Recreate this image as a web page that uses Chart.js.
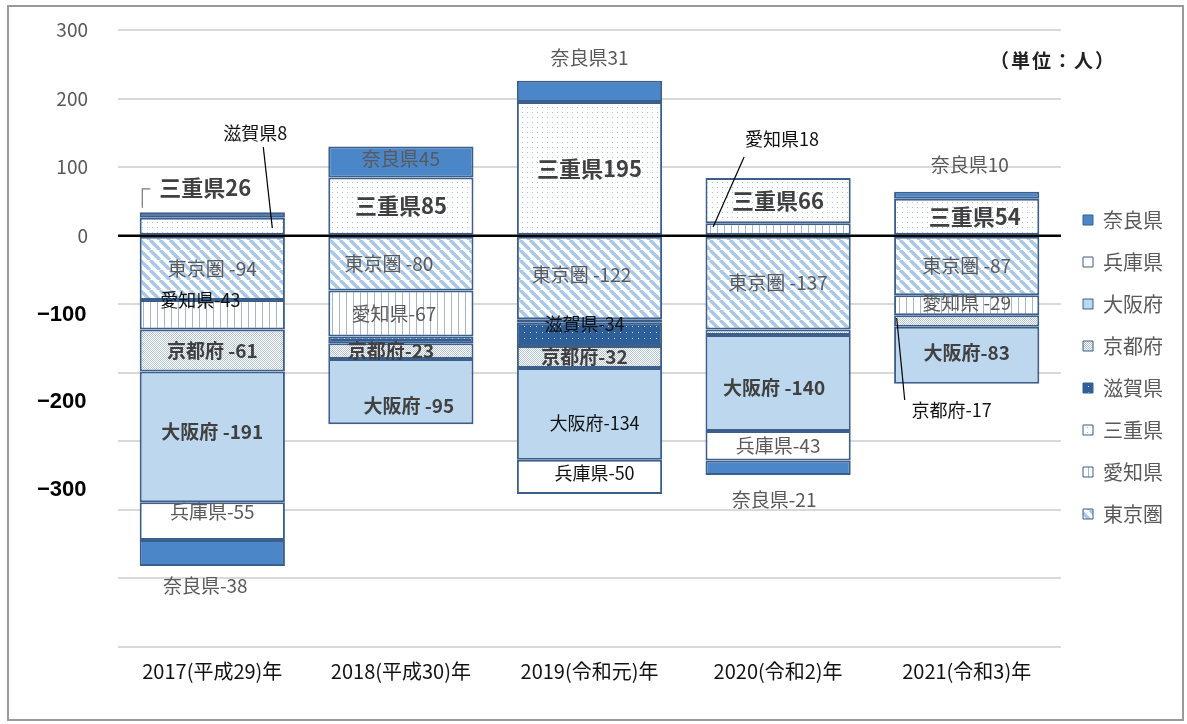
<!DOCTYPE html>
<html lang="ja">
<head>
<meta charset="utf-8">
<title>圏域別転入超過数</title>
<script src="https://cdn.jsdelivr.net/npm/chart.js@4.4.1/dist/chart.umd.min.js"></script>
<style>
  html, body { margin: 0; padding: 0; background: #fff; }
  #wrap { position: relative; width: 1187px; height: 724px; }
  #frame { position: absolute; left: 7px; top: 5px; width: 1173px; height: 712px; border: 2px solid #9a9a9a; pointer-events: none; }
  #unit { position: absolute; left: 990px; top: 46px; font: bold 19px "Noto Sans CJK JP"; color: #222; letter-spacing: 2px; }
</style>
</head>
<body>
<div id="wrap">
  <canvas id="chart"></canvas>
  <div id="frame"></div>
  <div id="unit">（単位：人）</div>
</div>
<script>
const years = ['2017(平成29)年', '2018(平成30)年', '2019(令和元)年', '2020(令和2)年', '2021(令和3)年'];

// 転入超過数（人）, null = なし
const tokyo = [-94, -80, -122, -137, -87];
const aichi = [-43, -67, -5, 18, -29];
const mie   = [26, 85, 195, 66, 54];
const shiga = [8, -10, -34, null, null];
const kyoto = [-61, -23, -32, -8, -17];
const osaka = [-191, -95, -134, -140, -83];
const hyogo = [-55, null, -50, -43, null];
const nara  = [-38, 45, 31, -21, 10];

const topTicks = [300, 200, 100, 0];
const negTicks = [-100, -200, -300];

const FAMILY = '"Noto Sans CJK JP", "Noto Sans", sans-serif';
const canvas = document.getElementById('chart');
const cctx = canvas.getContext('2d');

function pattern(w, h, bg, draw) {
  const tile = document.createElement('canvas');
  tile.width = w; tile.height = h;
  const g = tile.getContext('2d');
  g.fillStyle = bg; g.fillRect(0, 0, w, h);
  draw(g);
  return cctx.createPattern(tile, 'repeat');
}

const fills = {
  tokyo: pattern(10, 10, '#fff', g => {
    g.strokeStyle = '#a9c8e8'; g.lineWidth = 3.5;
    [-10, 0, 10].forEach(k => { g.beginPath(); g.moveTo(k, 0); g.lineTo(k + 10, 10); g.stroke(); });
  }),
  aichi: pattern(7, 1, '#fff', g => { g.fillStyle = '#a3b5c9'; g.fillRect(3, 0, 1, 1); }),
  mie: pattern(5, 5, '#fff', g => { g.fillStyle = '#9fbfe0'; g.fillRect(2, 2, 1, 1); }),
  shiga: pattern(6, 6, '#2f5f98', g => { g.fillStyle = '#c9dcf0'; g.fillRect(2, 2, 1, 1); }),
  kyoto: pattern(2, 2, '#fff', g => { g.fillStyle = '#b3c4d8'; g.fillRect(0, 0, 1, 1); g.fillRect(1, 1, 1, 1); }),
  osaka: '#bdd7ee',
  hyogo: '#ffffff',
  nara: '#4a86c8'
};

const series = [
  ['東京圏', tokyo, fills.tokyo],
  ['愛知県', aichi, fills.aichi],
  ['三重県', mie, fills.mie],
  ['滋賀県', shiga, fills.shiga],
  ['京都府', kyoto, fills.kyoto],
  ['大阪府', osaka, fills.osaka],
  ['兵庫県', hyogo, fills.hyogo],
  ['奈良県', nara, fills.nara]
];

const fonts = {
  gray:  { font: '19px ' + FAMILY, color: '#595959' },
  black: { font: '18px ' + FAMILY, color: '#111' },
  bold:  { font: 'bold 19px ' + FAMILY, color: '#404040' },
  mie:   { font: 'bold 22px ' + FAMILY, color: '#404040' }
};

// [系列, 年, 書式, 区切り, 基準(center/out), dx, dy, 引出線]
const notes = [
  ['三重県', 0, 'mie', '', 'out', -7, -30, [['L', -55, 1], ['L', -63, 1], ['L', -63, 20]], '#777'],
  ['滋賀県', 0, 'black', '', 'center', 43, -82, [['L', 8, 14], ['S', 60, 13]]],
  ['東京圏', 0, 'gray', ' ', 'center', 0, 0],
  ['愛知県', 0, 'black', '', 'center', -12, -15],
  ['京都府', 0, 'bold', ' ', 'center', 0, 0],
  ['大阪府', 0, 'bold', ' ', 'center', 0, -5],
  ['兵庫県', 0, 'gray', '', 'center', 0, -9],
  ['奈良県', 0, 'gray', '', 'out', -7, 20],

  ['奈良県', 1, 'gray', '', 'center', 0, -3],
  ['三重県', 1, 'mie', '', 'center', 0, 0],
  ['東京圏', 1, 'gray', ' ', 'center', -12, 0],
  ['愛知県', 1, 'gray', '', 'center', -7, 0],
  ['京都府', 1, 'bold', '', 'center', -10, 0],
  ['大阪府', 1, 'bold', ' ', 'center', 8, 14],

  ['奈良県', 2, 'gray', '', 'out', 0, -23],
  ['三重県', 2, 'mie', '', 'center', 0, 0],
  ['東京圏', 2, 'gray', ' ', 'center', -8, -3],
  ['滋賀県', 2, 'black', '', 'center', -5, -10],
  ['京都府', 2, 'bold', '', 'center', -5, 0],
  ['大阪府', 2, 'black', '', 'center', 5, 9],
  ['兵庫県', 2, 'black', '', 'center', 5, -4],

  ['愛知県', 3, 'black', '', 'center', 4, -90, [['L', -38, 18], ['S', -65, -2]]],
  ['三重県', 3, 'mie', '', 'center', 0, 0],
  ['東京圏', 3, 'gray', ' ', 'center', 0, 0],
  ['大阪府', 3, 'bold', ' ', 'center', -4, 5],
  ['兵庫県', 3, 'gray', '', 'center', 0, 0],
  ['奈良県', 3, 'gray', '', 'out', -4, 25],

  ['奈良県', 4, 'gray', '', 'out', 3, -27],
  ['三重県', 4, 'mie', '', 'center', 8, 0],
  ['東京圏', 4, 'gray', ' ', 'center', 0, 0],
  ['愛知県', 4, 'gray', ' ', 'center', 0, -2],
  ['京都府', 4, 'black', '', 'center', -15, 89, [['L', -47, -10], ['S', -70, -3]]],
  ['大阪府', 4, 'bold', '', 'center', 0, -3]
];

const zeroLine = {
  id: 'zeroLine',
  afterDatasetsDraw(chart) {
    const { ctx, chartArea, scales } = chart;
    const y = scales.y.getPixelForValue(0);
    ctx.save();
    ctx.strokeStyle = '#000';
    ctx.lineWidth = 2.5;
    ctx.beginPath();
    ctx.moveTo(chartArea.left, y);
    ctx.lineTo(chartArea.right, y);
    ctx.stroke();
    ctx.restore();
  }
};

const barLabels = {
  id: 'barLabels',
  afterDatasetsDraw(chart) {
    const ctx = chart.ctx;
    ctx.save();
    notes.forEach(([name, i, kind, sep, at, dx, dy, leader, lineColor]) => {
      const d = chart.data.datasets.findIndex(s => s.label === name);
      const el = chart.getDatasetMeta(d).data[i];
      const v = chart.data.datasets[d].data[i];
      const sx = el.x, sy = (el.y + el.base) / 2;
      const lx = el.x + dx, ly = (at === 'out' ? el.y : sy) + dy;
      if (leader) {
        ctx.strokeStyle = lineColor || '#000';
        ctx.lineWidth = 1.2;
        ctx.beginPath();
        leader.forEach(([ref, px, py], k) => {
          const x = (ref === 'L' ? lx : sx) + px, y = (ref === 'L' ? ly : sy) + py;
          k ? ctx.lineTo(x, y) : ctx.moveTo(x, y);
        });
        ctx.stroke();
      }
      ctx.font = fonts[kind].font;
      ctx.fillStyle = fonts[kind].color;
      ctx.textAlign = 'center';
      ctx.textBaseline = 'middle';
      ctx.fillText(name + sep + v, lx, ly);
    });
    ctx.restore();
  }
};

new Chart(canvas, {
  type: 'bar',
  data: {
    labels: years,
    datasets: series.map(([label, data, fill]) => ({
      label, data,
      backgroundColor: fill,
      borderColor: '#3b5f8a',
      borderWidth: 2,
      borderSkipped: false,
      barPercentage: 0.77,
      categoryPercentage: 1.0
    }))
  },
  options: {
    responsive: true, maintainAspectRatio: false, animation: false,
    layout: { padding: { top: 30, bottom: 20, left: 18, right: 14 } },
    scales: {
      x: {
        stacked: true,
        grid: { display: false, drawTicks: false }, border: { display: false },
        ticks: { padding: 12, maxRotation: 0, color: '#111', font: { size: 20, family: FAMILY } },
        afterFit: s => { s.height = 57; }
      },
      y: {
        stacked: true, min: -600, max: 300, weight: 1,
        grid: { color: '#d9d9d9', lineWidth: 2, drawTicks: true, tickLength: 30, tickColor: 'transparent' },
        border: { display: false },
        ticks: { stepSize: 100, padding: 0, color: '#595959', font: { size: 19, family: FAMILY },
          callback: v => topTicks.includes(v) ? v : '' },
        afterFit: s => { s.width = 100; }
      },
      y2: {
        position: 'left', min: -480, max: 226, weight: 0,
        grid: { display: false, drawTicks: false }, border: { display: false },
        afterBuildTicks: s => { s.ticks = negTicks.map(v => ({ value: v })); },
        ticks: { mirror: true, padding: -81, color: '#000',
          font: { size: 22, weight: 'bold', family: '"Liberation Sans", sans-serif' },
          callback: v => '−' + Math.abs(v) },
        afterFit: s => { s.width = 0; }
      }
    },
    plugins: {
      tooltip: { enabled: false },
      legend: {
        position: 'right', reverse: true,
        labels: {
          boxWidth: 10, boxHeight: 10, padding: 22, color: '#595959',
          font: { size: 20, family: FAMILY },
          generateLabels: chart => Chart.defaults.plugins.legend.labels.generateLabels(chart)
            .map(l => Object.assign(l, { lineWidth: 1 }))
        }
      }
    }
  },
  plugins: [zeroLine, barLabels]
});
</script>
</body>
</html>
